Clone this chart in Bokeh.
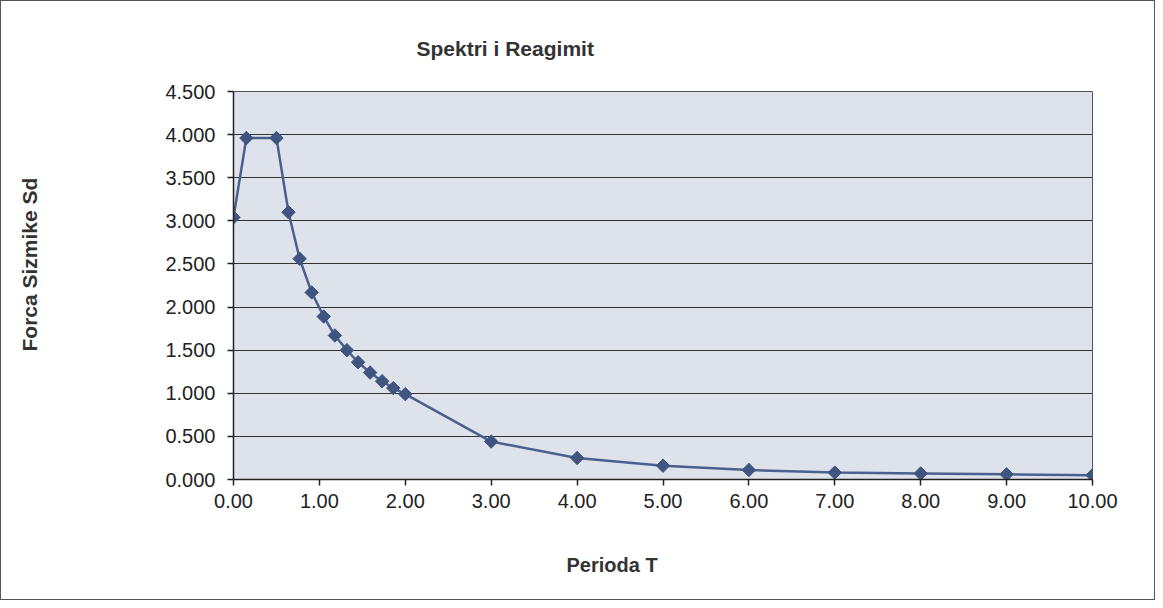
import math
from bokeh.plotting import figure
from bokeh.models import Title, NumeralTickFormatter, Range1d, FixedTicker
from bokeh.embed import file_html
from bokeh.resources import INLINE

period_t = [0.0, 0.15, 0.5, 0.64, 0.77, 0.91, 1.05, 1.18, 1.32, 1.45, 1.59, 1.73, 1.86, 2.0,
            3.0, 4.0, 5.0, 6.0, 7.0, 8.0, 9.0, 10.0]
force_sd = [3.04, 3.96, 3.96, 3.10, 2.56, 2.17, 1.89, 1.67, 1.50, 1.36, 1.24, 1.14, 1.06, 0.99,
            0.44, 0.25, 0.16, 0.11, 0.08, 0.07, 0.06, 0.05]
x_ticks = [0, 1, 2, 3, 4, 5, 6, 7, 8, 9, 10]
y_ticks = [0.0, 0.5, 1.0, 1.5, 2.0, 2.5, 3.0, 3.5, 4.0, 4.5]

title_text = "Spektri i Reagimit"
x_label = "Perioda T"
y_label = "Forca Sizmike Sd"

FONT = "Liberation Sans"
W, H = 1155, 600

p = figure(width=W, height=H, output_backend="svg", toolbar_location=None,
           x_range=Range1d(0, 10), y_range=Range1d(0, 4.5),
           min_border_left=232, min_border_right=64, min_border_top=90, min_border_bottom=122)
p.styles = {"border": "1px solid #555"}

p.background_fill_color = "#dee2ea"
p.border_fill_color = "white"
p.outline_line_color = "#555555"
p.outline_line_width = 1

p.xgrid.visible = False
p.ygrid.ticker = FixedTicker(ticks=y_ticks)
p.ygrid.grid_line_color = "#333333"
p.ygrid.grid_line_width = 1

for ax in (p.xaxis, p.yaxis):
    ax.axis_line_color = "#222222"
    ax.axis_line_width = 1.5
    ax.major_tick_line_color = "#222222"
    ax.major_tick_line_width = 1.5
    ax.major_tick_out = 6
    ax.major_tick_in = 0
    ax.minor_tick_line_color = None
    ax.major_label_text_font = FONT
    ax.major_label_text_font_size = "20px"
    ax.major_label_text_color = "#222222"

p.xaxis.ticker = FixedTicker(ticks=x_ticks)
p.xaxis.formatter = NumeralTickFormatter(format="0.00")
p.xaxis.major_label_standoff = 8
p.yaxis.ticker = FixedTicker(ticks=y_ticks)
p.yaxis.formatter = NumeralTickFormatter(format="0.000")
p.yaxis.major_label_standoff = 12

p.line(period_t, force_sd, line_color="#4a6190", line_width=2.5)
p.scatter(period_t, force_sd, marker="square", size=9.5, angle=math.pi / 4,
          fill_color="#3f5580", line_color="#3f5580")

t_kw = dict(text_font=FONT, text_font_style="bold", text_color="#333333", align="left")
p.title = Title(text=title_text, offset=183, standoff=64, text_font_size="21px", **t_kw)

# spacers (blank titles) push the axis titles outward
p.add_layout(Title(text=" ", standoff=38, text_font_size="1px"), "below")
p.add_layout(Title(text=x_label, offset=333, standoff=0, text_font_size="20px", **t_kw), "below")
p.add_layout(Title(text=" ", standoff=119, text_font_size="1px"), "left")
p.add_layout(Title(text=y_label, offset=128, standoff=0, text_font_size="21px", **t_kw), "left")

open("out.html", "w").write(file_html(p, INLINE))
